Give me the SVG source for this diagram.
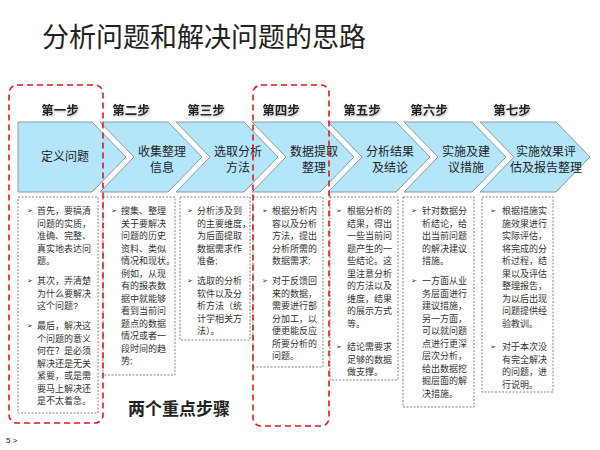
<svg xmlns="http://www.w3.org/2000/svg" width="600" height="450" viewBox="0 0 600 450">
<style>
.t{font-family:"Liberation Sans","Noto Sans CJK SC",sans-serif;fill:#222}
.chev{fill:#b3e5fb;stroke:#8a9aa3;stroke-width:1}
.step{font-family:"Liberation Serif","Noto Sans CJK SC",serif;font-weight:bold;font-size:12.5px;fill:#222;text-anchor:middle}
.lab{font-family:"Liberation Sans","Noto Sans CJK SC",sans-serif;font-size:12px;fill:#222;text-anchor:middle}
.box{fill:#fff;stroke:#666;stroke-width:0.8;stroke-dasharray:2,1.5}
.body{font-family:"Liberation Sans","Noto Sans CJK SC",sans-serif;font-size:9px;fill:#333}
.body tspan.m{font-size:7px}
.red{fill:none;stroke:#e8141c;stroke-width:1.6;stroke-dasharray:6,4}
</style>
<defs><filter id="sh"><feDropShadow dx="1" dy="1" stdDeviation="0.8" flood-color="#888" flood-opacity="0.6"/></filter></defs>
<text class="t" x="42" y="47" font-size="27">分析问题和解决问题的思路</text>
<g id="steps" filter="url(#sh)">
<text class="step" x="60" y="115">第一步</text>
<text class="step" x="131" y="115">第二步</text>
<text class="step" x="206" y="115">第三步</text>
<text class="step" x="281" y="115">第四步</text>
<text class="step" x="362" y="115">第五步</text>
<text class="step" x="429" y="115">第六步</text>
<text class="step" x="512" y="115">第七步</text>
</g>
<g id="n1"><path class="chev" d="M18,122H92L126,157L92,192H18Z"/><text class="lab" x="65" y="161">定义问题</text></g>
<g id="n2"><path class="chev" d="M100,122H168L202,157L168,192H100L134,157Z"/><text class="lab" x="162" y="156">收集整理</text><text class="lab" x="162" y="172">信息</text></g>
<g id="n3"><path class="chev" d="M176,122H244L278,157L244,192H176L210,157Z"/><text class="lab" x="238" y="156">选取分析</text><text class="lab" x="238" y="172">方法</text></g>
<g id="n4"><path class="chev" d="M252,122H320L354,157L320,192H252L286,157Z"/><text class="lab" x="314" y="156">数据提取</text><text class="lab" x="314" y="172">整理</text></g>
<g id="n5"><path class="chev" d="M328,122H396L430,157L396,192H328L362,157Z"/><text class="lab" x="390" y="156">分析结果</text><text class="lab" x="390" y="172">及结论</text></g>
<g id="n6"><path class="chev" d="M404,122H472L506,157L472,192H404L438,157Z"/><text class="lab" x="466" y="156">实施及建</text><text class="lab" x="466" y="172">议措施</text></g>
<g id="n7"><path class="chev" d="M480,122H556L590,157L556,192H480L514,157Z"/><text class="lab" x="546" y="156">实施效果评</text><text class="lab" x="546" y="172">估及报告整理</text></g>
<g id="b1"><rect class="box" x="18" y="197" width="80" height="216"/>
<text class="body"><tspan class="m" x="27" y="213">➢</tspan><tspan x="37" y="214">首先，要搞清</tspan><tspan x="37" dy="12.5">问题的实质，</tspan><tspan x="37" dy="12.5">准确、完整、</tspan><tspan x="37" dy="12.5">真实地表达问</tspan><tspan x="37" dy="12.5">题。</tspan>
<tspan class="m" x="27" y="283">➢</tspan><tspan x="37" y="284">其次，弄清楚</tspan><tspan x="37" dy="12.5">为什么要解决</tspan><tspan x="37" dy="12.5">这个问题?</tspan>
<tspan class="m" x="27" y="328">➢</tspan><tspan x="37" y="329">最后，解决这</tspan><tspan x="37" dy="12.5">个问题的意义</tspan><tspan x="37" dy="12.5">何在？是必须</tspan><tspan x="37" dy="12.5">解决还是无关</tspan><tspan x="37" dy="12.5">紧要，或是需</tspan><tspan x="37" dy="12.5">要马上解决还</tspan><tspan x="37" dy="12.5">是不太着急。</tspan></text></g>
<g id="b2"><rect class="box" x="103" y="197" width="72" height="178"/>
<text class="body"><tspan class="m" x="111" y="213">➢</tspan><tspan x="121" y="214">搜集、整理</tspan><tspan x="121" dy="12.5">关于要解决</tspan><tspan x="121" dy="12.5">问题的历史</tspan><tspan x="121" dy="12.5">资料、类似</tspan><tspan x="121" dy="12.5">情况和现状。</tspan><tspan x="121" dy="12.5">例如，从现</tspan><tspan x="121" dy="12.5">有的报表数</tspan><tspan x="121" dy="12.5">据中就能够</tspan><tspan x="121" dy="12.5">看到当前问</tspan><tspan x="121" dy="12.5">题点的数据</tspan><tspan x="121" dy="12.5">情况或者一</tspan><tspan x="121" dy="12.5">段时间的趋</tspan><tspan x="121" dy="12.5">势;</tspan></text></g>
<g id="b3"><rect class="box" x="180" y="197" width="70" height="143"/>
<text class="body"><tspan class="m" x="187" y="213">➢</tspan><tspan x="197" y="214">分析涉及到</tspan><tspan x="197" dy="12.5">的主要维度，</tspan><tspan x="197" dy="12.5">为后面提取</tspan><tspan x="197" dy="12.5">数据需求作</tspan><tspan x="197" dy="12.5">准备;</tspan>
<tspan class="m" x="187" y="283">➢</tspan><tspan x="197" y="284">选取的分析</tspan><tspan x="197" dy="12.5">软件以及分</tspan><tspan x="197" dy="12.5">析方法（统</tspan><tspan x="197" dy="12.5">计学相关方</tspan><tspan x="197" dy="12.5">法）。</tspan></text></g>
<g id="b4"><rect class="box" x="253" y="197" width="70" height="170"/>
<text class="body"><tspan class="m" x="262" y="213">➢</tspan><tspan x="272" y="214">根据分析内</tspan><tspan x="272" dy="12.5">容以及分析</tspan><tspan x="272" dy="12.5">方法，提出</tspan><tspan x="272" dy="12.5">分析所需的</tspan><tspan x="272" dy="12.5">数据需求;</tspan>
<tspan class="m" x="262" y="283">➢</tspan><tspan x="272" y="284">对于反馈回</tspan><tspan x="272" dy="12.5">来的数据，</tspan><tspan x="272" dy="12.5">需要进行部</tspan><tspan x="272" dy="12.5">分加工，以</tspan><tspan x="272" dy="12.5">便更能反应</tspan><tspan x="272" dy="12.5">所要分析的</tspan><tspan x="272" dy="12.5">问题。</tspan></text></g>
<g id="b5"><rect class="box" x="330" y="197" width="68" height="183"/>
<text class="body"><tspan class="m" x="336" y="213">➢</tspan><tspan x="347" y="214">根据分析的</tspan><tspan x="347" dy="12.5">结果，得出</tspan><tspan x="347" dy="12.5">一些当前问</tspan><tspan x="347" dy="12.5">题产生的一</tspan><tspan x="347" dy="12.5">些结论。这</tspan><tspan x="347" dy="12.5">里注意分析</tspan><tspan x="347" dy="12.5">的方法以及</tspan><tspan x="347" dy="12.5">维度，结果</tspan><tspan x="347" dy="12.5">的展示方式</tspan><tspan x="347" dy="12.5">等。</tspan>
<tspan class="m" x="336" y="349">➢</tspan><tspan x="347" y="350">结论需要求</tspan><tspan x="347" dy="12.5">足够的数据</tspan><tspan x="347" dy="12.5">做支撑。</tspan></text></g>
<g id="b6"><rect class="box" x="403" y="197" width="71" height="210"/>
<text class="body"><tspan class="m" x="411" y="213">➢</tspan><tspan x="422" y="214">针对数据分</tspan><tspan x="422" dy="12.5">析结论，给</tspan><tspan x="422" dy="12.5">出当前问题</tspan><tspan x="422" dy="12.5">的解决建议</tspan><tspan x="422" dy="12.5">措施。</tspan>
<tspan class="m" x="411" y="283">➢</tspan><tspan x="422" y="284">一方面从业</tspan><tspan x="422" dy="12.5">务层面进行</tspan><tspan x="422" dy="12.5">建议措施，</tspan><tspan x="422" dy="12.5">另一方面，</tspan><tspan x="422" dy="12.5">可以就问题</tspan><tspan x="422" dy="12.5">点进行更深</tspan><tspan x="422" dy="12.5">层次分析，</tspan><tspan x="422" dy="12.5">给出数据挖</tspan><tspan x="422" dy="12.5">掘层面的解</tspan><tspan x="422" dy="12.5">决措施。</tspan></text></g>
<g id="b7"><rect class="box" x="482" y="197" width="71" height="195"/>
<text class="body"><tspan class="m" x="490" y="213">➢</tspan><tspan x="502" y="214">根据措施实</tspan><tspan x="502" dy="12.5">施效果进行</tspan><tspan x="502" dy="12.5">实际评估，</tspan><tspan x="502" dy="12.5">将完成的分</tspan><tspan x="502" dy="12.5">析过程，结</tspan><tspan x="502" dy="12.5">果以及评估</tspan><tspan x="502" dy="12.5">整理报告，</tspan><tspan x="502" dy="12.5">为以后出现</tspan><tspan x="502" dy="12.5">问题提供经</tspan><tspan x="502" dy="12.5">验教训。</tspan>
<tspan class="m" x="490" y="349">➢</tspan><tspan x="502" y="350">对于本次没</tspan><tspan x="502" dy="12.5">有完全解决</tspan><tspan x="502" dy="12.5">的问题，进</tspan><tspan x="502" dy="12.5">行说明。</tspan></text></g>
<g id="highlights">
<rect class="red" x="9" y="85" width="94" height="338" rx="8"/>
<rect class="red" x="253" y="85" width="76" height="341" rx="8"/>
</g>
<text class="t" x="128" y="415" font-size="17" font-weight="bold" fill="#111">两个重点步骤</text>
<text class="t" x="6" y="443" font-size="8" fill="#666">5  &gt;</text>
</svg>
